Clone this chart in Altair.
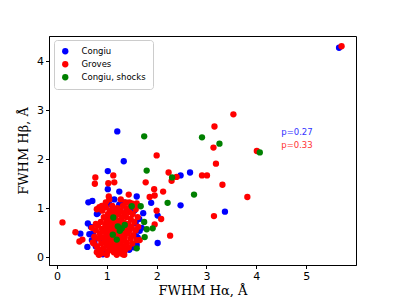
import altair as alt
import pandas as pd

series_names = ["Congiu", "Groves", "Congiu, shocks"]
series_colors = ["#0000ff", "#ff0000", "#008000"]

congiu_x = [5.66, 1.21, 1.34, 1.02, 2.48, 2.67, 2.48, 3.37, 2.02, 1.02, 1.25, 0.63, 0.71,
            1.60, 1.73, 1.89, 2.02, 0.61, 0.47, 0.62, 0.92, 0.80, 1.59, 1.66, 0.65,
            0.68, 0.70, 0.72, 0.75, 0.78, 0.82, 0.88, 0.95, 1.05, 1.15, 1.25, 1.35, 1.40,
            1.48, 1.55, 1.62, 1.60, 1.55, 1.45, 1.35, 1.20, 1.05, 0.95, 1.65, 1.70, 1.58,
            1.10, 1.30, 0.90, 1.00, 1.40]
congiu_y = [4.28, 2.57, 1.96, 1.76, 1.67, 1.73, 1.06, 0.93, 0.29, 1.39, 1.34, 1.12, 1.15,
            1.24, 0.90, 1.11, 0.85, 0.21, 0.48, 0.69, 0.06, 0.88, 0.43, 0.54, 0.47,
            0.62, 0.35, 0.48, 0.30, 0.22, 0.90, 0.98, 1.05, 1.08, 1.18, 1.08, 1.12, 0.98,
            1.02, 0.95, 0.40, 0.25, 0.20, 0.15, 0.12, 0.10, 0.15, 0.10, 0.78, 0.60, 0.70,
            0.60, 0.45, 0.35, 0.80, 0.55]

groves_x = [5.71, 3.54, 3.16, 3.14, 4.01, 3.19, 2.00, 2.91, 3.01, 3.32, 3.82, 3.15, 2.24,
            2.30, 2.40, 2.13, 1.95, 1.96, 1.78, 1.86, 2.27, 2.09, 2.00, 1.96, 1.66, 0.11,
            0.37, 0.45, 0.51, 0.77, 0.76, 1.13, 1.15, 1.03, 1.04, 1.44, 1.60, 0.83, 0.85,
            1.32,
            0.72, 0.75, 0.78, 0.80, 0.82, 0.84, 0.85, 0.86, 0.88, 0.89, 0.90, 0.91, 0.92,
            0.93, 0.94, 0.95, 0.96, 0.97, 0.98, 0.99, 1.00, 1.00, 1.01, 1.02, 1.02, 1.03,
            1.04, 1.05, 1.05, 1.06, 1.07, 1.07, 1.08, 1.08, 1.09, 1.10, 1.10, 1.11, 1.11,
            1.12, 1.12, 1.13, 1.13, 1.14, 1.14, 1.15, 1.15, 1.16, 1.16, 1.17, 1.17, 1.18,
            1.18, 1.19, 1.20, 1.20, 1.21, 1.21, 1.22, 1.22, 1.23, 1.24, 1.24, 1.25, 1.26,
            1.26, 1.27, 1.28, 1.28, 1.29, 1.30, 1.30, 1.31, 1.32, 1.32, 1.33, 1.34, 1.35,
            1.35, 1.36, 1.37, 1.38, 1.39, 1.40, 1.40, 1.42, 1.43, 1.44, 1.45, 1.46, 1.48,
            1.48, 1.50, 1.51, 1.52, 1.53, 1.55, 1.56, 1.58, 1.60, 1.62, 1.63, 1.58, 1.45,
            1.05, 0.98, 0.90, 0.85, 0.80, 0.78, 0.76, 0.80, 0.84, 0.90, 1.00, 1.20, 1.25,
            1.35, 1.28, 1.38, 1.50, 0.70, 0.74,
            1.00, 1.05, 1.10, 1.15, 1.20, 1.25, 1.30, 1.08, 1.18, 1.28, 1.12, 1.22]
groves_y = [4.31, 2.92, 2.67, 2.24, 2.17, 1.91, 2.08, 1.67, 1.67, 1.48, 1.23, 0.84, 1.73,
            1.56, 1.64, 1.34, 1.39, 1.26, 1.53, 1.23, 0.44, 0.78, 0.95, 0.67, 0.35, 0.71,
            0.51, 0.32, 0.36, 1.63, 1.50, 1.67, 1.53, 1.51, 1.24, 1.28, 1.10, 0.11, 0.06,
            0.06,
            0.30, 0.42, 0.55, 0.22, 0.65, 0.38, 0.15, 0.48, 0.72, 0.28, 0.58, 0.95, 0.40,
            0.18, 0.82, 0.52, 0.33, 0.66, 1.02, 0.45, 0.25, 0.75, 0.58, 0.12, 0.88, 0.36,
            0.50, 0.68, 0.20, 0.95, 0.42, 0.80, 0.30, 0.60, 0.15, 0.52, 0.72, 1.05, 0.38,
            0.25, 0.88, 0.48, 0.62, 0.10, 0.78, 0.35, 0.55, 0.95, 0.22, 0.68, 0.44, 0.85,
            0.30, 0.58, 0.12, 0.75, 0.40, 1.00, 0.52, 0.20, 0.65, 0.88, 0.33, 0.48, 0.15,
            0.72, 0.58, 0.95, 0.28, 0.42, 0.80, 0.08, 0.62, 0.35, 1.05, 0.50, 0.22, 0.70,
            0.90, 0.40, 0.15, 0.58, 0.82, 0.30, 1.00, 0.48, 0.68, 0.20, 0.92, 0.55, 0.38,
            0.78, 0.62, 0.28, 0.88, 0.45, 0.72, 1.05, 0.55, 0.35, 0.82, 0.62, 0.98, 1.12,
            1.18, 1.12, 1.05, 1.02, 0.98, 0.68, 0.40, 0.10, 0.05, 0.08, 0.05, 0.05, 0.10,
            0.05, 1.18, 1.12, 1.10, 0.60, 0.28,
            0.35, 0.45, 0.62, 0.30, 0.48, 0.40, 0.55, 0.85, 0.90, 0.70, 0.18, 0.25]

shocks_x = [1.75, 2.91, 3.26, 4.07, 1.80, 2.31, 2.75, 2.22, 1.68, 1.50, 1.75, 1.80, 1.92,
            1.76, 1.60, 1.13, 1.22, 1.26, 1.36, 1.20, 1.12, 1.30]
shocks_y = [2.47, 2.45, 2.32, 2.14, 1.77, 1.63, 1.28, 1.11, 1.04, 1.04, 0.72, 0.57, 0.59,
            0.41, 0.18, 0.81, 0.63, 0.54, 0.66, 0.36, 0.46, 0.59]

note_texts = ["p=0.27", "p=0.33"]
note_x = [4.50, 4.50]
note_y = [2.55, 2.29]

frames = [
    pd.DataFrame({"x": congiu_x, "y": congiu_y, "s": series_names[0]}),
    pd.DataFrame({"x": groves_x, "y": groves_y, "s": series_names[1]}),
    pd.DataFrame({"x": shocks_x, "y": shocks_y, "s": series_names[2]}),
]

xscale = alt.Scale(domain=[-0.16, 6.0], nice=False, zero=False)
yscale = alt.Scale(domain=[-0.16, 4.52], nice=False, zero=False)
cscale = alt.Scale(domain=series_names, range=series_colors)

xaxis = alt.Axis(title="FWHM Hα, Å", values=[0, 1, 2, 3, 4, 5], format="d",
                 grid=False, tickSize=3.5, titlePadding=3)
yaxis = alt.Axis(title="FWHM Hβ, Å", values=[0, 1, 2, 3, 4], format="d",
                 grid=False, tickSize=3.5, titlePadding=6)

layers = []
for i, df in enumerate(frames):
    layers.append(
        alt.Chart(df).mark_point(filled=True, opacity=1, size=40, shape="circle").encode(
            x=alt.X("x:Q", scale=xscale, axis=xaxis),
            y=alt.Y("y:Q", scale=yscale, axis=yaxis),
            color=alt.Color("s:N", scale=cscale,
                            legend=alt.Legend(title=None, orient="none",
                                              legendX=5, legendY=4)),
        )
    )

notes = pd.DataFrame({"t": note_texts, "x": note_x, "y": note_y, "c": ["#3333ff", "#ff3333"]})
text = alt.Chart(notes).mark_text(align="left", baseline="middle", fontSize=8.5,
                                  font="DejaVu Sans").encode(
    x=alt.X("x:Q", scale=xscale),
    y=alt.Y("y:Q", scale=yscale),
    text="t:N",
    color=alt.Color("c:N", scale=None),
)

chart = alt.layer(*layers, text).properties(
    width=307, height=229,
    autosize=alt.AutoSizeParams(type="none"),
    padding={"left": 41, "top": 28, "right": 30, "bottom": 45},
).configure_view(
    stroke="black", strokeWidth=1
).configure_axis(
    domainColor="black", tickColor="black", labelColor="black",
    labelFont="DejaVu Sans", labelFontSize=11, labelPadding=2,
    titleFont="DejaVu Serif", titleFontSize=13, titleFontWeight="normal",
    titleColor="black",
).configure_legend(
    labelFont="DejaVu Sans", labelFontSize=8.5, labelColor="black",
    symbolSize=40, symbolType="circle", symbolStrokeWidth=0,
    fillColor="white", strokeColor="#cccccc", cornerRadius=3,
    padding=7, rowPadding=4, labelOffset=12,
)

chart.save("out.html", embed_options={"renderer": "svg", "actions": False})
